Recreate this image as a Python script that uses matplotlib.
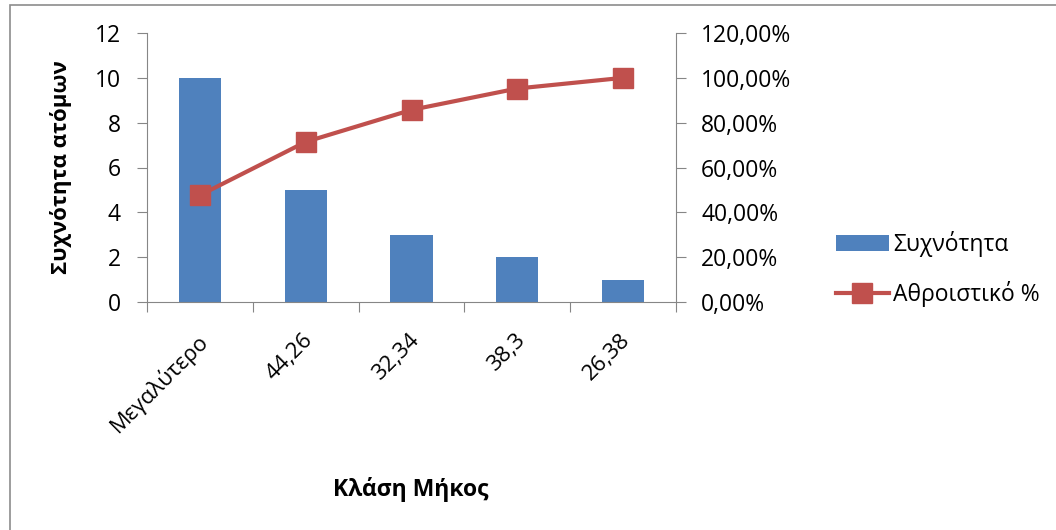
import matplotlib

matplotlib.use("Agg")
import matplotlib.pyplot as plt  # noqa: E402
import numpy as np  # noqa: E402
from matplotlib.patches import Rectangle  # noqa: E402
from matplotlib.ticker import FuncFormatter  # noqa: E402

plt.rcParams["font.family"] = ["Open Sans", "DejaVu Sans"]

categories = ["Μεγαλύτερο", "44,26", "32,34", "38,3", "26,38"]
frequency = [10, 5, 3, 2, 1]
cumulative_pct = [47.62, 71.43, 85.71, 95.24, 100.0]

BAR_COLOR = "#4f81bd"
LINE_COLOR = "#c0504d"
AXIS_COLOR = "#868686"
FS = 16.5

fig = plt.figure(figsize=(10.56, 5.30), dpi=100)
fig.patches.append(
    Rectangle((10 / 1056, -0.1), 1.2, 1.1 - 5 / 530, transform=fig.transFigure,
              fill=False, edgecolor="#8c8c8c", lw=1.2)
)

ax = fig.add_axes([147 / 1056, 1 - 302 / 530, 529 / 1056, 269 / 530])
x = np.arange(len(categories))
ax.bar(x, frequency, width=0.4, color=BAR_COLOR, zorder=2, label="Συχνότητα")
ax.set_xlim(-0.5, len(categories) - 0.5)
ax.set_ylim(0, 12)
ax.set_yticks(range(0, 13, 2))
# category boundaries carry the tick marks, labels sit on invisible minor ticks
ax.set_xticks(np.arange(-0.5, len(categories), 1.0))
ax.set_xticklabels([])
ax.set_xticks(x - 0.03, minor=True)
ax.set_xticklabels(categories, minor=True, rotation=45, ha="right",
                   rotation_mode="anchor", fontsize=16)
ax.tick_params(axis="x", which="minor", length=0, pad=20)
ax.tick_params(axis="x", which="major", length=7, color=AXIS_COLOR, direction="out")
ax.tick_params(axis="y", length=7, color=AXIS_COLOR, labelsize=FS, pad=12)
for side in ("top", "right"):
    ax.spines[side].set_visible(False)
for side in ("left", "bottom"):
    ax.spines[side].set_color(AXIS_COLOR)

ax2 = ax.twinx()
ax2.plot(x, cumulative_pct, color=LINE_COLOR, lw=3, marker="s", ms=14,
         label="Αθροιστικό %", zorder=3)
ax2.set_ylim(0, 120)
ax2.set_yticks(range(0, 121, 20))
ax2.yaxis.set_major_formatter(FuncFormatter(lambda v, _: f"{v:.2f}%".replace(".", ",")))
ax2.tick_params(axis="y", length=7, color=AXIS_COLOR, labelsize=FS, pad=11)
for side in ("top", "left", "bottom"):
    ax2.spines[side].set_visible(False)
ax2.spines["right"].set_color(AXIS_COLOR)

ax.set_ylabel("Συχνότητα ατόμων", fontsize=16, fontweight="bold")
ax.yaxis.set_label_coords(-0.142, 0.5)
fig.text(411 / 1056, 1 - 490 / 530, "Κλάση Μήκος", ha="center", va="center",
         fontsize=FS, fontweight="bold")

handles = ax.get_legend_handles_labels()[0] + ax2.get_legend_handles_labels()[0]
labels = ["Συχνότητα", "Αθροιστικό %"]
fig.legend(handles, labels, loc="center left", bbox_to_anchor=(836 / 1056, 1 - 269 / 530),
           frameon=False, fontsize=FS, handlelength=2.3, labelspacing=1.05,
           handletextpad=0.2, borderpad=0, borderaxespad=0)

fig.savefig("out.png", dpi=100)
